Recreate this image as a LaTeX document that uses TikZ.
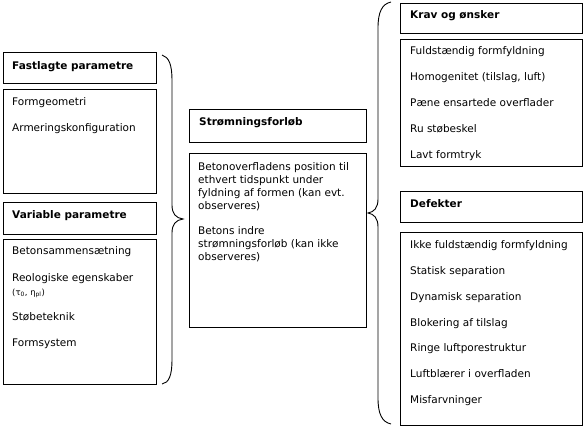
\documentclass[tikz,border=0pt]{standalone}
\usepackage{fontspec}
\setmainfont{DejaVu Sans}
\begin{document}
\begin{tikzpicture}[x=1pt,y=-1pt,
  box/.style={draw=black,line width=0.9pt,inner sep=0pt,anchor=north west},
  txt/.style={anchor=base west,inner sep=0pt,font=\fontsize{10.5}{12}\selectfont},
  hdr/.style={anchor=base west,inner sep=0pt,font=\fontsize{10.5}{12}\selectfont\bfseries},
  bracepath/.style={draw=black,line width=0.9pt}]
\useasboundingbox (0,0) rectangle (585,428);
% left column
\node[box,minimum width=153pt,minimum height=31pt] (fh) at (3,52) {};
\node[box,minimum width=153pt,minimum height=104pt] (fb) at (3,89) {};
\node[box,minimum width=153pt,minimum height=32pt] (vh) at (3,202) {};
\node[box,minimum width=153pt,minimum height=145pt] (vb) at (3,239) {};
\node[hdr] (t1) at (12,69) {Fastlagte parametre};
\node[txt] (t2) at (12,105) {Formgeometri};
\node[txt] (t3) at (12,131) {Armeringskonfiguration};
\node[hdr] (t4) at (12,218) {Variable parametre};
\node[txt] (t5) at (12,254) {Betonsammensætning};
\node[txt] (t6) at (12,281) {Reologiske egenskaber};
\node[txt,font=\fontsize{8.5}{10}\selectfont] (t7) at (12,295) {(τ\textsubscript{0}, η\textsubscript{pl})};
\node[txt] (t8) at (12,320) {Støbeteknik};
\node[txt] (t9) at (12,346) {Formsystem};
% middle column
\node[box,minimum width=177pt,minimum height=33pt] (sh) at (189,109) {};
\node[box,minimum width=177pt,minimum height=174pt] (sb) at (189,153) {};
\node[hdr] (m1) at (199,125) {Strømningsforløb};
\node[txt] (m2) at (198,170) {Betonoverfladens position til};
\node[txt] (m3) at (198,183) {ethvert tidspunkt under};
\node[txt] (m4) at (198,196) {fyldning af formen (kan evt.};
\node[txt] (m5) at (198,209) {observeres)};
\node[txt] (m6) at (198,234) {Betons indre};
\node[txt] (m7) at (198,247) {strømningsforløb (kan ikke};
\node[txt] (m8) at (198,260) {observeres)};
% right column
\node[box,minimum width=182pt,minimum height=30pt] (kh) at (400,3) {};
\node[box,minimum width=182pt,minimum height=127pt] (kb) at (400,39) {};
\node[box,minimum width=182pt,minimum height=31pt] (dh) at (400,191) {};
\node[box,minimum width=182pt,minimum height=193pt] (db) at (400,232) {};
\node[hdr] (r1) at (410,19) {Krav og ønsker};
\node[txt] (r2) at (410,54) {Fuldstændig formfyldning};
\node[txt] (r3) at (410,80) {Homogenitet (tilslag, luft)};
\node[txt] (r4) at (410,106) {Pæne ensartede overflader};
\node[txt] (r5) at (410,132) {Ru støbeskel};
\node[txt] (r6) at (410,158) {Lavt formtryk};
\node[hdr] (r7) at (410,207) {Defekter};
\node[txt] (r8) at (410,248) {Ikke fuldstændig formfyldning};
\node[txt] (r9) at (410,274) {Statisk separation};
\node[txt] (r10) at (410,300) {Dynamisk separation};
\node[txt] (r11) at (410,326) {Blokering af tilslag};
\node[txt] (r12) at (410,351) {Ringe luftporestruktur};
\node[txt] (r13) at (410,377) {Luftblærer i overfladen};
\node[txt] (r14) at (410,403) {Misfarvninger};
% braces
\draw[bracepath] (162,55) .. controls (169,57) and (172,65) .. (172,80) -- (172,205)
  .. controls (172,214) and (176,218) .. (183,219)
  .. controls (176,220) and (172,224) .. (172,233) -- (172,360)
  .. controls (172,375) and (169,383) .. (162,384);
\draw[bracepath] (391,2) .. controls (382,4) and (378,12) .. (378,28) -- (378,199)
  .. controls (378,208) and (374,212) .. (368,213)
  .. controls (374,214) and (378,218) .. (378,227) -- (378,398)
  .. controls (378,414) and (382,422) .. (391,424);
\end{tikzpicture}
\end{document}
